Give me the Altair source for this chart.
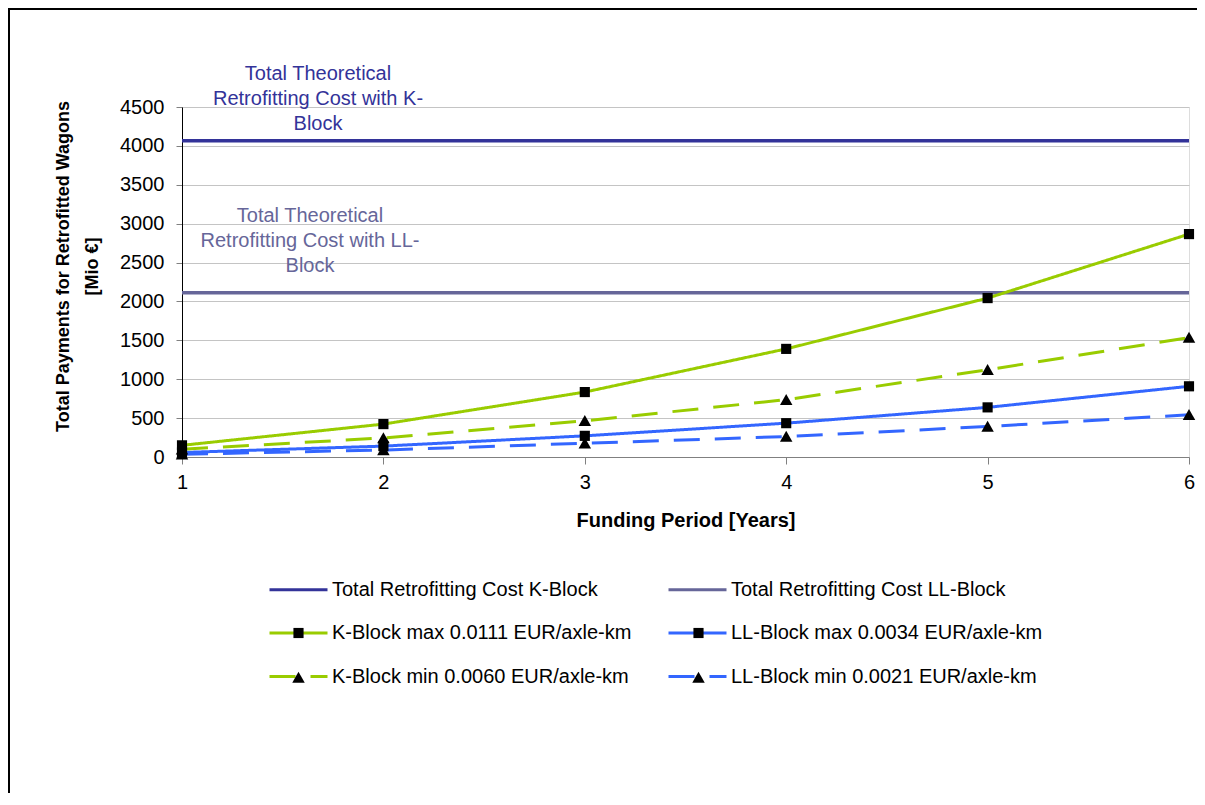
import altair as alt
import pandas as pd

# ---- data ----
years = [1, 2, 3, 4, 5, 6]
k_max = [150, 423, 835, 1390, 2043, 2866]
ll_max = [58, 140, 272, 435, 638, 909]
k_min = [100, 245, 465, 737, 1121, 1535]
ll_min = [35, 90, 177, 263, 392, 543]
total_k = 4065
total_ll = 2112

# legend order (Vega fills legend columns top-to-bottom)
series = [
    "Total Retrofitting Cost K-Block",
    "K-Block max 0.0111 EUR/axle-km",
    "K-Block min 0.0060 EUR/axle-km",
    "Total Retrofitting Cost LL-Block",
    "LL-Block max 0.0034 EUR/axle-km",
    "LL-Block min 0.0021 EUR/axle-km",
]
colors = ["#333399", "#99CC00", "#99CC00", "#666699", "#3366FF", "#3366FF"]
dashes = [[1, 0], [1, 0], [26, 15], [1, 0], [1, 0], [26, 15]]
SQ = "M-0.175,-0.175H0.175V0.175H-0.175Z"
TRI = "M0,-0.2L0.215,0.18L-0.215,0.18Z"
NONE = "M0,0"
shapes = [NONE, SQ, TRI, NONE, SQ, TRI]

k_note = "Total Theoretical\nRetrofitting Cost with K-\nBlock"
ll_note = "Total Theoretical\nRetrofitting Cost with LL-\nBlock"

x_title = "Funding Period [Years]"
y_title = ["Total Payments for Retrofitted Wagons", "[Mio €]"]
y_ticks = [0, 500, 1000, 1500, 2000, 2500, 3000, 3500, 4000, 4500]

# ---- tables ----
rows = []
for name, vals in [(series[1], k_max), (series[4], ll_max), (series[2], k_min), (series[5], ll_min)]:
    for yr, v in zip(years, vals):
        rows.append({"year": yr, "value": v, "series": name, "marker": name + "|m"})
lines_df = pd.DataFrame(rows)
rules_df = pd.DataFrame({"series": [series[0], series[3]], "value": [total_k, total_ll]})
k_note_df = pd.DataFrame({"note": [k_note], "value": [total_k]})
ll_note_df = pd.DataFrame({"note": [ll_note], "value": [total_ll]})
frame_df = pd.DataFrame({"a": [0]})

FONT = "Liberation Sans"

x_scale = alt.Scale(domain=[1, 6], nice=False, zero=False)
y_scale = alt.Scale(domain=[0, 4500], nice=False)

color_scale = alt.Scale(domain=series, range=colors)
dash_scale = alt.Scale(domain=series, range=dashes)
shape_scale = alt.Scale(domain=[s + "|m" for s in series], range=shapes)

LEG_X, LEG_Y, COL_PAD, ROW_PAD = 86, 452, 30, 2.5
# width (px) of the widest first-column label, "K-Block max 0.0111 EUR/axle-km", at 20px
LABEL_W = 306

line_legend = alt.Legend(
    title=None, orient="none", legendX=LEG_X, legendY=LEG_Y, columns=2,
    columnPadding=COL_PAD, rowPadding=ROW_PAD, padding=0,
    symbolType="stroke", symbolSize=3364, symbolStrokeWidth=3,
    labelFont=FONT, labelFontSize=20, labelColor="black", labelLimit=600,
    labelOffset=3,
)
# marker-only legend laid exactly over the line legend (labels empty)
shape_legend = alt.Legend(
    title=None, orient="none", legendX=LEG_X, legendY=LEG_Y, columns=2,
    columnPadding=COL_PAD + LABEL_W, rowPadding=ROW_PAD, padding=0,
    symbolSize=3364, symbolStrokeWidth=3, symbolFillColor="black",
    symbolStrokeColor="transparent",
    labelFont=FONT, labelFontSize=20, labelLimit=600, labelOffset=3,
    labelExpr="''",
)

x_axis = alt.Axis(
    values=years, format="d", grid=False, labelFlush=False, labelOverlap=False,
    domainColor="#808080", tickColor="#808080", tickSize=7,
    labelFontSize=20, labelFont=FONT, labelColor="black", labelPadding=8,
    title=x_title, titleFont=FONT, titleFontSize=20, titleFontWeight="bold",
    titleColor="black", titlePadding=18,
)
y_axis = alt.Axis(
    values=y_ticks, format="d", grid=True, gridColor="#C4C4C4",
    labelFlush=False, labelOverlap=False, tickCount=10,
    domainColor="black", tickColor="#808080", tickSize=6,
    labelFontSize=20, labelFont=FONT, labelColor="black", labelPadding=12,
    title=y_title, titleFont=FONT, titleFontSize=18, titleFontWeight="bold",
    titleColor="black", titleX=-119, titleY=159, titleAngle=-90,
    titleAlign="center", titleBaseline="middle", titleLineHeight=29,
)

frame = alt.Chart(frame_df).mark_rect(fillOpacity=0, stroke="black", strokeWidth=2).encode(
    x=alt.value(-173), x2=alt.value(1400), y=alt.value(-98), y2=alt.value(1400)
)

rules = alt.Chart(rules_df).mark_rule(strokeWidth=3.5).encode(
    y=alt.Y("value:Q", scale=y_scale, axis=y_axis),
    color=alt.Color("series:N", scale=color_scale, legend=line_legend),
)

lines = alt.Chart(lines_df).mark_line(strokeWidth=3).encode(
    x=alt.X("year:Q", scale=x_scale, axis=x_axis),
    y=alt.Y("value:Q", scale=y_scale, axis=y_axis),
    color=alt.Color("series:N", scale=color_scale, legend=line_legend),
    strokeDash=alt.StrokeDash("series:N", scale=dash_scale, legend=line_legend),
    detail="series:N",
)

points = alt.Chart(lines_df).mark_point(filled=True, opacity=1, size=3364, color="black").encode(
    x=alt.X("year:Q", scale=x_scale, axis=x_axis),
    y=alt.Y("value:Q", scale=y_scale, axis=y_axis),
    shape=alt.Shape("marker:N", scale=shape_scale, legend=shape_legend),
)

k_text = alt.Chart(k_note_df).mark_text(
    align="center", baseline="middle", lineBreak="\n", lineHeight=25,
    fontSize=20, font=FONT, color="#333399", dy=-66.5,
).encode(x=alt.value(136), y=alt.Y("value:Q", scale=y_scale, axis=y_axis), text="note:N")

ll_text = alt.Chart(ll_note_df).mark_text(
    align="center", baseline="middle", lineBreak="\n", lineHeight=25,
    fontSize=20, font=FONT, color="#666699", dy=-76.5,
).encode(x=alt.value(128), y=alt.Y("value:Q", scale=y_scale, axis=y_axis), text="note:N")

chart = alt.layer(frame, rules, lines, points, k_text, ll_text).properties(
    width=1007, height=350,
    autosize=alt.AutoSizeParams(type="none"),
    padding={"left": 174, "top": 99, "right": 8, "bottom": 336},
).configure_view(stroke=None).configure(font=FONT)

chart.save("out.html", embed_options={"renderer": "svg", "actions": False})
